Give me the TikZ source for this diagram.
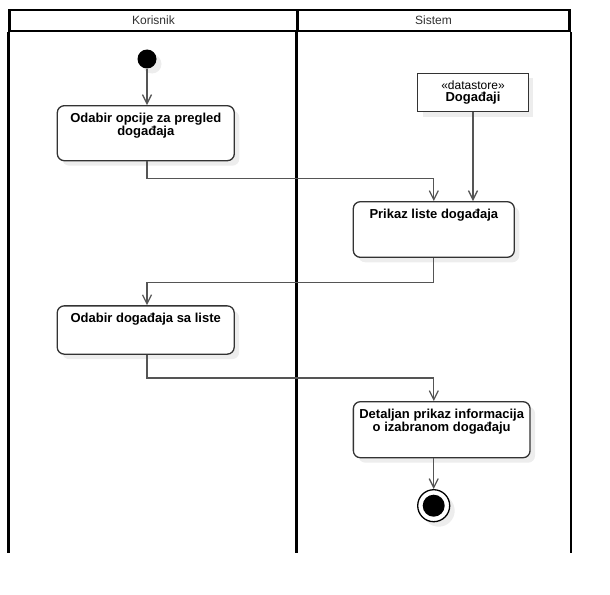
\documentclass[tikz,border=0pt]{standalone}
\usepackage{fontspec}
\setmainfont{Liberation Sans}
\usetikzlibrary{positioning,shadows,arrows.meta}
\definecolor{boxline}{HTML}{333333}
\definecolor{flowline}{HTML}{555555}
\definecolor{headtext}{HTML}{303030}
\newcommand{\boxfont}{\bfseries\fontsize{13}{12.5}\selectfont}

\tikzset{
  lanehead/.style={draw=black, line width=2.1pt, minimum height=21pt, inner sep=0pt,
    text=headtext, font=\fontsize{12}{14}\selectfont},
  lane/.style={draw=black, line width=2.1pt},
  softshadow/.style={drop shadow={shadow xshift=5pt, shadow yshift=-5pt, fill=black, opacity=0.07}},
  activity/.style={draw=boxline, line width=1.3pt, rounded corners=7pt, fill=white, softshadow},
  actlabel/.style={align=center, inner sep=0pt, font=\boxfont},
  store/.style={draw=boxline, line width=1.3pt, fill=white, softshadow, align=center, inner sep=0pt},
  flow/.style={draw=flowline, line width=1.3pt, ->},
}

\begin{document}
\begin{tikzpicture}[x=1pt, y=-1pt, >={Straight Barb[length=9pt,width=9pt]}]
\useasboundingbox (0,0) rectangle (610,594);

% swimlanes
\node[lanehead, minimum width=288pt] (korisnik) at (153.5,20.5) {Korisnik};
\node[lanehead, minimum width=272pt] (sistem) at (433.5,20.5) {Sistem};
\draw[lane] (korisnik.south west) -- (korisnik.south west |- 0,553.3);
\draw[lane] (sistem.south west) -- (sistem.south west |- 0,553.3);
\draw[lane] (sistem.south east) -- (sistem.south east |- 0,553.3);

% activities
\node[circle, fill=black, minimum size=19pt, inner sep=0pt, softshadow] (start) at (147,59) {};
\node[activity, minimum width=177pt, minimum height=55pt] (odabirOpcije) at (145.8,133.2) {};
\node[actlabel, below=8pt of odabirOpcije.north] (odabirOpcijeText) {Odabir opcije za pregled\\događaja};

\node[store, minimum width=110.6pt, minimum height=38.4pt] (dogadjaji) at (473,92.5)
  {\fontsize{12}{15}\selectfont «datastore»\\\boxfont Događaji};

\node[activity, minimum width=161pt, minimum height=55.6pt] (prikazListe) at (433.8,229.5) {};
\node[actlabel, below=8pt of prikazListe.north] (prikazListeText) {Prikaz liste događaja};

\node[activity, minimum width=177pt, minimum height=48.3pt] (odabirDogadjaja) at (145.7,330) {};
\node[actlabel, below=8pt of odabirDogadjaja.north] (odabirDogadjajaText) {Odabir događaja sa liste};

\node[activity, minimum width=176.7pt, minimum height=56pt] (detaljanPrikaz) at (441.7,429.7) {};
\node[actlabel, below=8pt of detaljanPrikaz.north] (detaljanPrikazText) {Detaljan prikaz informacija\\o izabranom događaju};

\node[circle, draw=black, line width=1.3pt, fill=white, minimum size=32pt, inner sep=0pt, softshadow] (kraj) at (433.7,505.7) {};
\node[circle, fill=black, minimum size=22pt, inner sep=0pt] (krajDot) at (kraj.center) {};

% flows
\draw[flow] (start.south) -- (start.south |- odabirOpcije.north);
\draw[flow] (odabirOpcije.south -| start) -- ++(0,17) -| (prikazListe.north);
\draw[flow] (dogadjaji.south) -- (dogadjaji.south |- prikazListe.north);
\draw[flow] (prikazListe.south) -- ++(0,24.4) -| (odabirDogadjaja.north -| start);
\draw[flow] (odabirDogadjaja.south -| start) -- ++(0,23.3) -| (detaljanPrikaz.north -| prikazListe);
\draw[flow] (detaljanPrikaz.south -| kraj) -- (kraj.north);
\end{tikzpicture}
\end{document}
